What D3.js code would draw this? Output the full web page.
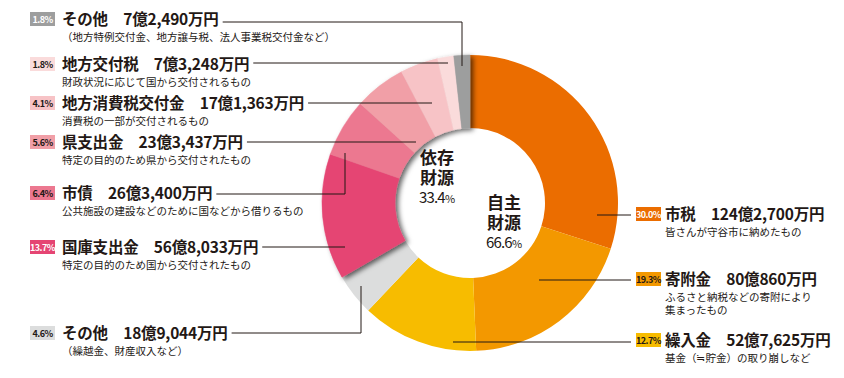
<!DOCTYPE html>
<html><head><meta charset="utf-8">
<script src="https://cdn.jsdelivr.net/npm/d3@7"></script>
<style>
html,body{margin:0;padding:0;background:#fff;}
svg{display:block;font-family:"Noto Sans CJK JP","Noto Sans",sans-serif;}
</style></head>
<body>
<svg id="chart" width="844" height="378"></svg>
<script>
// ---- data (amounts in 万円) ----
const categories = ["市税","寄附金","繰入金","その他","国庫支出金","市債","県支出金","地方消費税交付金","地方交付税","その他"];
const values = [1242700, 800860, 527625, 189044, 568033, 263400, 233437, 171363, 73248, 72490];
const groups = ["自主","自主","自主","自主","依存","依存","依存","依存","依存","依存"];
const notes = [
  ["皆さんが守谷市に納めたもの"],
  ["ふるさと納税などの寄附により","集まったもの"],
  ["基金（≒貯金）の取り崩しなど"],
  ["（繰越金、財産収入など）"],
  ["特定の目的のため国から交付されたもの"],
  ["公共施設の建設などのために国などから借りるもの"],
  ["特定の目的のため県から交付されたもの"],
  ["消費税の一部が交付されるもの"],
  ["財政状況に応じて国から交付されるもの"],
  ["（地方特例交付金、地方譲与税、法人事業税交付金など）"]
];
const groupNames = {"自主":["自主","財源"], "依存":["依存","財源"]};

// ---- styles ----
const colors = ["#eb6d00","#f39800","#f7bc00","#dcdddd","#e54573","#ec7890","#f19fa7","#f7c3c6","#fadbdb","#9d9e9e"];
const badgeText = ["#fff","#231815","#231815","#231815","#fff","#231815","#231815","#231815","#231815","#fff"];
const ink = "#231815";

// ---- layout (label placement) ----
const layout = [
  {side:"R", y:220, ly:215, pts:[[597,215]]},
  {side:"R", y:285, ly:280, pts:[[539,280]]},
  {side:"R", y:346, ly:342, pts:[[453,342]]},
  {side:"L", y:339, ly:333, pts:[[361,333],[361,286]]},
  {side:"L", y:253, ly:247, pts:[[345,247]]},
  {side:"L", y:199, ly:194, pts:[[345,194],[345,153]]},
  {side:"L", y:148, ly:142, pts:[[416,142]]},
  {side:"L", y:109, ly:103, pts:[[432,103]]},
  {side:"L", y:70,  ly:63,  pts:[[448,63]]},
  {side:"L", y:25,  ly:22,  pts:[[462,22],[462,66]]}
];

const cx = 470, cy = 203, rOuter = 148, rInner = 75;
const svg = d3.select("#chart");
const total = d3.sum(values);
const pctFmt = v => (v/total*100).toFixed(1) + "%";
const fmtAmt = v => {
  const oku = Math.floor(v/10000), man = v % 10000;
  return oku + "億" + d3.format(",")(man) + "万円";
};

const defs = svg.append("defs");
const f = defs.append("filter").attr("id","shadow").attr("x","-20%").attr("y","-20%").attr("width","150%").attr("height","150%");
f.append("feDropShadow").attr("dx",3).attr("dy",2).attr("stdDeviation",2.5).attr("flood-color","#000").attr("flood-opacity",0.6);

const pie = d3.pie().sort(null).value(d => d.v).startAngle(0).endAngle(2*Math.PI);
const data = values.map((v,i) => ({v, i, g: groups[i]}));
const arcs = pie(data);
const arc = d3.arc().innerRadius(rInner).outerRadius(rOuter);

const gPie = svg.append("g").attr("transform",`translate(${cx},${cy})`);
gPie.append("g").selectAll("path").data(arcs.filter(a => a.data.g === "自主")).join("path")
  .attr("d", arc).attr("fill", d => colors[d.data.i]);
gPie.append("g").attr("filter","url(#shadow)").selectAll("path").data(arcs.filter(a => a.data.g === "依存")).join("path")
  .attr("d", arc).attr("fill", d => colors[d.data.i]).attr("stroke", d => colors[d.data.i]).attr("stroke-width",0.5);

// center group labels (one text element each)
const grpPct = g => pctFmt(d3.sum(values.filter((v,i) => groups[i] === g)));
const centerPos = {"依存":[437,164], "自主":[504,209]};
Object.keys(centerPos).forEach(g => {
  const [x,y] = centerPos[g];
  const t = svg.append("text").attr("fill", ink).attr("text-anchor","middle").attr("x",x).attr("y",y);
  groupNames[g].forEach((s,k) => {
    t.append("tspan").attr("x",x).attr("y",y + k*19.5).attr("font-size",17).attr("font-weight",700).text(s);
  });
  const p = grpPct(g);
  t.append("tspan").attr("x",x).attr("y",y + 39).attr("font-size",15).attr("letter-spacing",-0.8).text(p.slice(0,-1));
  t.append("tspan").attr("font-size",11).text("%");
});

// labels
const gLab = svg.append("g");
layout.forEach((L,i) => {
  const bx = L.side === "L" ? 30 : 636;
  const tx = L.side === "L" ? 62 : 665;
  const g = gLab.append("g");
  g.append("rect").attr("x",bx).attr("y",L.y-13).attr("width",25).attr("height",14).attr("fill",colors[i]);
  g.append("text").attr("x",bx+12.5).attr("y",L.y-2.5).attr("text-anchor","middle")
    .attr("font-size",9).attr("font-weight",700).attr("letter-spacing",-0.5)
    .attr("fill",badgeText[i]).text(pctFmt(values[i]));
  const title = g.append("text").attr("x",tx).attr("y",L.y).attr("font-size",15.5).attr("font-weight",700)
    .attr("letter-spacing",-0.2).attr("fill",ink)
    .text(categories[i] + "\u3000" + fmtAmt(values[i]));
  notes[i].forEach((s,k) => {
    g.append("text").attr("x",tx).attr("y",L.y + 15.5 + k*13.5).attr("font-size",10.5).attr("fill",ink).text(s);
  });
  let start;
  if (L.side === "L") {
    const w = title.node().getComputedTextLength();
    start = [tx + w + 4, L.ly];
  } else {
    start = [bx - 5, L.ly];
  }
  const pts = [start].concat(L.pts);
  g.append("path").attr("d", d3.line()(pts)).attr("fill","none").attr("stroke",ink).attr("stroke-width",1);
});
</script>
</body></html>
